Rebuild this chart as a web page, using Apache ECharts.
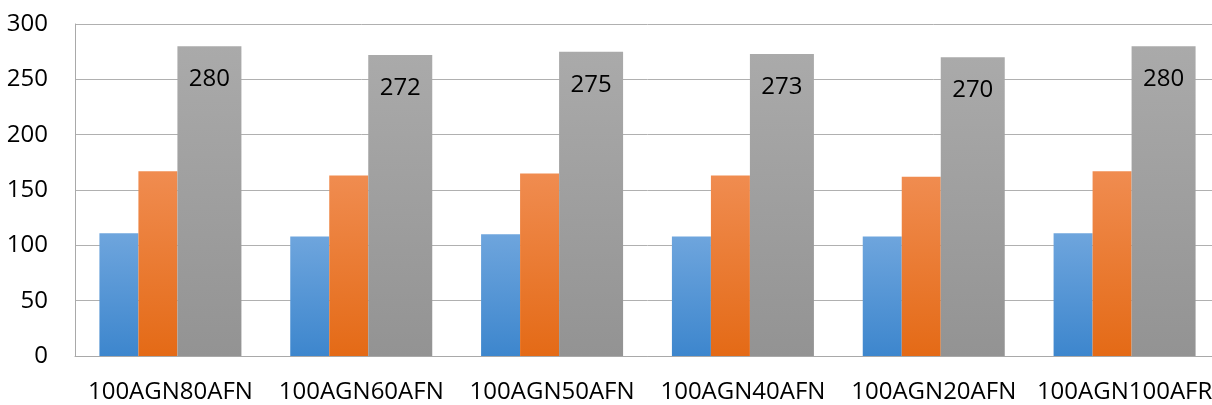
<!DOCTYPE html>
<html>
<head>
<meta charset="utf-8">
<script src="https://cdn.jsdelivr.net/npm/echarts@6/dist/echarts.min.js"></script>
<style>
  html, body { margin: 0; padding: 0; background: #ffffff; overflow: hidden; }
  #wrap { width: 1212px; height: 405px; overflow: hidden; }
  /* the plot area runs a little past the visible right edge */
  #chart { width: 1220px; height: 405px; }
</style>
</head>
<body>
<div id="wrap"><div id="chart"></div></div>
<script>
// Sample groups along the x axis
const categories = ['100AGN80AFN', '100AGN60AFN', '100AGN50AFN', '100AGN40AFN', '100AGN20AFN', '100AGN100AFR'];
// Three measurements per sample
const seriesBlue = [111, 108, 110, 108, 108, 111];
const seriesOrange = [167, 163, 165, 163, 162, 167];
const seriesGray = [280, 272, 275, 273, 270, 280];
// Value axis ticks
const yTicks = [0, 50, 100, 150, 200, 250, 300];

const FONT = '"Open Sans", "Noto Sans", sans-serif';

function grad(top, bottom) {
  return new echarts.graphic.LinearGradient(0, 0, 0, 1, [
    { offset: 0, color: top },
    { offset: 1, color: bottom }
  ]);
}

const chart = echarts.init(document.getElementById('chart'), null, { renderer: 'canvas' });

chart.setOption({
  animation: false,
  backgroundColor: '#ffffff',
  grid: { left: 75, right: 0, top: 24, bottom: 49, containLabel: false },
  xAxis: {
    type: 'category',
    data: categories,
    axisLine: { show: true, lineStyle: { color: '#a9a9a9', width: 1 } },
    axisTick: { show: false },
    axisLabel: { color: '#000000', fontFamily: FONT, fontSize: 24, margin: 24, interval: 0 }
  },
  yAxis: {
    type: 'value',
    min: yTicks[0],
    max: yTicks[yTicks.length - 1],
    interval: yTicks[1] - yTicks[0],
    axisLine: { show: true, lineStyle: { color: '#a9a9a9', width: 1 } },
    axisTick: { show: false },
    axisLabel: { color: '#000000', fontFamily: FONT, fontSize: 24, margin: 27 },
    splitLine: { show: true, lineStyle: { color: '#b0b0b0', width: 1 } }
  },
  series: [
    {
      type: 'bar',
      data: seriesBlue,
      barWidth: 39,
      barGap: '0%',
      itemStyle: { color: grad('#6ea5dd', '#3d86cd') }
    },
    {
      type: 'bar',
      data: seriesOrange,
      barWidth: 39,
      barGap: '0%',
      itemStyle: { color: grad('#f08c50', '#e46a16') }
    },
    {
      type: 'bar',
      data: seriesGray,
      barWidth: 64,
      barGap: '0%',
      itemStyle: { color: grad('#aaaaaa', '#939393') },
      label: {
        show: true,
        position: 'insideTop',
        distance: 21,
        color: '#000000',
        fontFamily: FONT,
        fontSize: 24
      }
    }
  ]
});
</script>
</body>
</html>
